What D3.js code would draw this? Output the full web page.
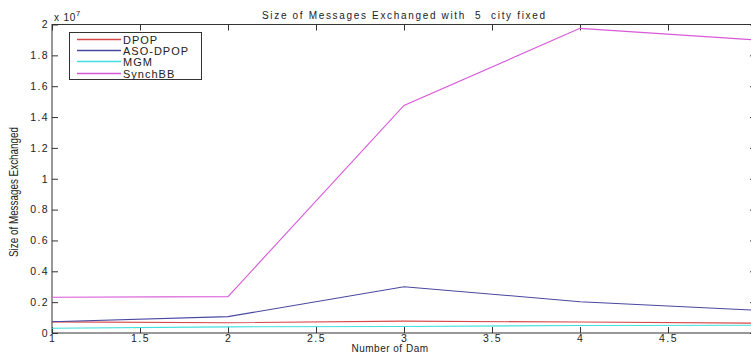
<!DOCTYPE html>
<html>
<head>
<meta charset="utf-8">
<script src="https://cdn.jsdelivr.net/npm/d3@7"></script>
<style>
  html, body { margin: 0; padding: 0; background: #fff; }
  svg { display: block; }
  text { font-family: "Liberation Sans", Arial, sans-serif; fill: #222; }
</style>
</head>
<body>
<div id="chart"></div>
<script>
// Number of dams on the x axis
const dams = [1, 2, 3, 4, 5];
// Message sizes (units of 1e7)
const dpop    = [0.072, 0.066, 0.077, 0.071, 0.064];
const asoDpop = [0.073, 0.106, 0.300, 0.203, 0.148];
const mgm     = [0.031, 0.040, 0.042, 0.049, 0.050];
const synchBB = [0.232, 0.236, 1.475, 1.975, 1.900];

const seriesNames  = ["DPOP", "ASO-DPOP", "MGM", "SynchBB"];
const seriesValues = [dpop, asoDpop, mgm, synchBB];
const seriesColors = ["#d84848", "#4848a0", "#40dede", "#d858d8"];

const xTicks = [1, 1.5, 2, 2.5, 3, 3.5, 4, 4.5, 5];
const xTickLabels = ["1", "1.5", "2", "2.5", "3", "3.5", "4", "4.5", ""];
const yTicks = [0, 0.2, 0.4, 0.6, 0.8, 1, 1.2, 1.4, 1.6, 1.8, 2];

const W = 751, H = 353;
const plotLeft = 52, plotRight = 756, plotTop = 24.5, plotBottom = 333;

const svg = d3.select("#chart").append("svg")
  .attr("width", W).attr("height", H);

const x = d3.scaleLinear().domain([1, 5]).range([plotLeft, plotRight]);
const y = d3.scaleLinear().domain([0, 2]).range([plotBottom, plotTop]);

const tickLen = 6;
const axisColor = "#333";

// Axes: tick marks point inward, on all four sides
function styleAxis(g) {
  g.select(".domain").remove();
  g.selectAll(".tick line").attr("stroke", axisColor);
  g.selectAll(".tick text").attr("font-size", 10.5).attr("fill", "#222")
    .style("letter-spacing", "1.4px")
    .style("font-family", "'Liberation Sans', Arial, sans-serif");
}

svg.append("g").attr("transform", `translate(0,${plotBottom})`)
  .call(d3.axisBottom(x).tickValues(xTicks).tickSize(-tickLen).tickPadding(2)
    .tickFormat((d, i) => xTickLabels[i]))
  .call(styleAxis);

svg.append("g").attr("transform", `translate(0,${plotTop})`)
  .call(d3.axisTop(x).tickValues(xTicks).tickSize(-tickLen).tickFormat(""))
  .call(styleAxis);

svg.append("g").attr("transform", `translate(${plotLeft},0)`)
  .call(d3.axisLeft(y).tickValues(yTicks).tickSize(-tickLen).tickPadding(3)
    .tickFormat(d3.format("~g")))
  .call(styleAxis);

svg.append("g").attr("transform", `translate(${plotRight},0)`)
  .call(d3.axisRight(y).tickValues(yTicks).tickSize(-tickLen).tickFormat(""))
  .call(styleAxis);

// Axes box
svg.append("rect")
  .attr("x", plotLeft).attr("y", plotTop)
  .attr("width", plotRight - plotLeft).attr("height", plotBottom - plotTop)
  .attr("fill", "none").attr("stroke", axisColor).attr("stroke-width", 1);

// Series lines
const line = d3.line().x((d, i) => x(dams[i])).y(d => y(d));
seriesValues.forEach((vals, k) => {
  svg.append("path").datum(vals)
    .attr("d", line)
    .attr("fill", "none")
    .attr("stroke", seriesColors[k])
    .attr("stroke-width", 1.1);
});

// Exponent label
const expo = svg.append("text").attr("x", 54).attr("y", 21).attr("font-size", 10)
  .style("letter-spacing", "0.8px");
expo.append("tspan").text("x 10");
expo.append("tspan").attr("dy", -5).attr("font-size", 7.5).text("7");

// Title
svg.append("text")
  .attr("x", 403.5).attr("y", 19)
  .attr("text-anchor", "middle").attr("font-size", 10)
  .attr("xml:space", "preserve")
  .attr("textLength", 283).attr("lengthAdjust", "spacing")
  .text("Size of Messages Exchanged with  5  city fixed");

// Axis labels
svg.append("text")
  .attr("x", 390).attr("y", 352)
  .attr("text-anchor", "middle").attr("font-size", 10)
  .style("letter-spacing", "0.5px")
  .text("Number of Dam");

svg.append("text")
  .attr("transform", `translate(18,192) rotate(-90)`)
  .attr("text-anchor", "middle").attr("font-size", 12)
  .attr("textLength", 130).attr("lengthAdjust", "spacingAndGlyphs")
  .text("Size of Messages Exchanged");

// Legend
const lg = svg.append("g");
lg.append("rect")
  .attr("x", 69.5).attr("y", 32.5).attr("width", 132).attr("height", 47)
  .attr("fill", "#fff").attr("stroke", axisColor).attr("stroke-width", 1);
const legendLine = d3.line();
seriesNames.forEach((name, k) => {
  const cy = Math.round(39 + k * 11.2) + 0.5;
  lg.append("path")
    .attr("d", legendLine([[77, cy], [121, cy]]))
    .attr("fill", "none")
    .attr("stroke", seriesColors[k]).attr("stroke-width", 1.3);
  lg.append("text")
    .attr("x", 123).attr("y", cy + 4).attr("font-size", 11)
    .style("letter-spacing", "1px")
    .text(name);
});
</script>
</body>
</html>
